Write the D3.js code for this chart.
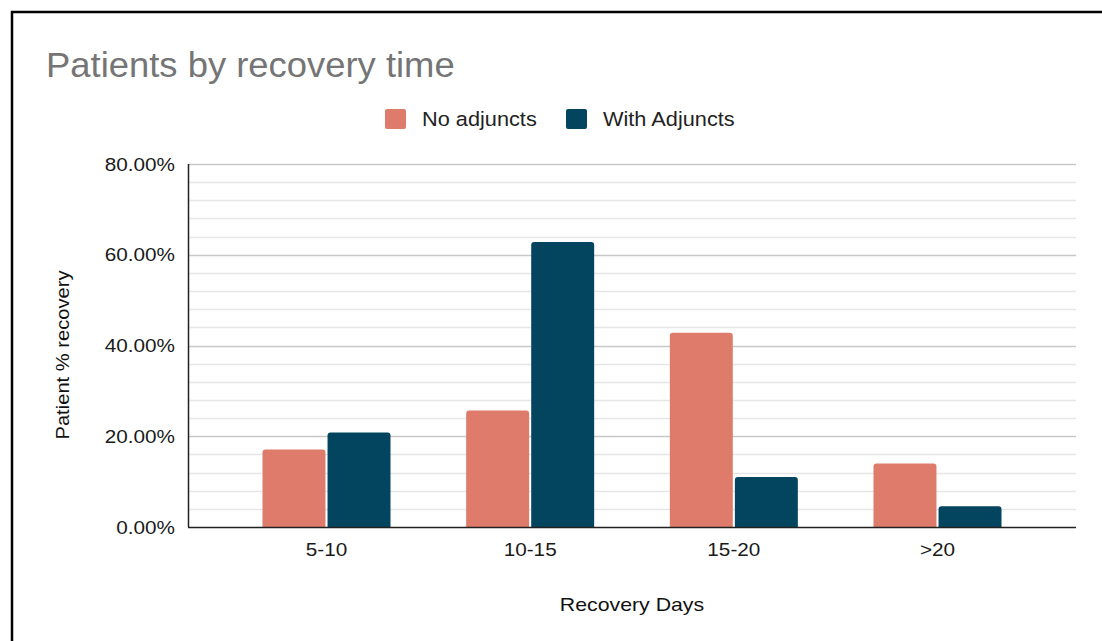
<!DOCTYPE html>
<html>
<head>
<meta charset="utf-8">
<script src="https://cdn.jsdelivr.net/npm/d3@7"></script>
<style>
  html, body { margin: 0; padding: 0; background: #fff; }
  svg { display: block; font-family: "Liberation Sans", Arial, sans-serif; }
</style>
</head>
<body>
<svg id="chart" width="1102" height="641"></svg>
<script>
// Recovery-time buckets and share of patients in each
const categories = ["5-10", "10-15", "15-20", ">20"];
const seriesNames = ["No adjuncts", "With Adjuncts"];
const noAdjuncts = [17.1, 25.7, 42.8, 14.0];
const withAdjuncts = [20.8, 62.8, 11.0, 4.6];
const yTicks = [0, 20, 40, 60, 80];
const colors = ["#de7b6a", "#03445f"];

const svg = d3.select("#chart");

// widen glyphs slightly for a broader sans look
function widen(sel, k) {
  sel.each(function () {
    const w = this.getComputedTextLength();
    d3.select(this).attr("textLength", w * k).attr("lengthAdjust", "spacingAndGlyphs");
  });
}

// outer frame
svg.append("rect")
  .attr("x", 12).attr("y", 12)
  .attr("width", 1200).attr("height", 700)
  .attr("fill", "#fff").attr("stroke", "#000").attr("stroke-width", 2.5);

const plot = { left: 188, right: 1076, top: 164, bottom: 527 };

const y = d3.scaleLinear().domain([0, 80]).range([plot.bottom, plot.top]);
const x0 = d3.scaleBand().domain(categories)
  .range([plot.left, plot.right]).paddingOuter(0.18).paddingInner(0);
const groupWidth = 128;
const x1 = d3.scaleBand().domain(seriesNames)
  .range([0, groupWidth]).paddingInner(0.032);

// minor gridlines every 4%
const minor = d3.range(0, 81, 4).filter(v => v % 20 !== 0);
svg.append("g").selectAll("line").data(minor).join("line")
  .attr("x1", plot.left).attr("x2", plot.right)
  .attr("y1", d => Math.round(y(d)) + 0.5).attr("y2", d => Math.round(y(d)) + 0.5)
  .attr("stroke", "#e6e6e6").attr("stroke-width", 1.3);

// major gridlines
svg.append("g").selectAll("line").data(yTicks.filter(v => v > 0)).join("line")
  .attr("x1", plot.left).attr("x2", plot.right)
  .attr("y1", d => Math.round(y(d)) + 0.5).attr("y2", d => Math.round(y(d)) + 0.5)
  .attr("stroke", "#c8c8c8").attr("stroke-width", 1.3);

// bars with slightly rounded top corners
function barPath(x, yTop, w, yBase, r) {
  r = Math.min(r, (yBase - yTop) / 2);
  return `M${x},${yBase}V${yTop + r}Q${x},${yTop} ${x + r},${yTop}` +
         `H${x + w - r}Q${x + w},${yTop} ${x + w},${yTop + r}V${yBase}Z`;
}

const rows = categories.map((c, i) => ({ cat: c, vals: [noAdjuncts[i], withAdjuncts[i]] }));
const groups = svg.append("g").selectAll("g").data(rows).join("g")
  .attr("transform", d => `translate(${x0(d.cat) + x0.bandwidth() / 2 - groupWidth / 2},0)`);
groups.selectAll("path").data(d => d.vals.map((v, j) => ({ v, s: seriesNames[j], j })))
  .join("path")
  .attr("d", d => barPath(x1(d.s), y(d.v), x1.bandwidth(), y(0), 3))
  .attr("fill", d => colors[d.j]);

// axes
const yAxis = svg.append("g")
  .attr("transform", `translate(${plot.left},0)`)
  .call(d3.axisLeft(y).tickValues(yTicks).tickSize(0).tickPadding(13)
    .tickFormat(d => d.toFixed(2) + "%"));
yAxis.select(".domain").remove();
yAxis.selectAll("text").attr("font-size", 19).attr("fill", "#1a1a1a")
  .attr("font-family", "Liberation Sans, Arial, sans-serif");
widen(yAxis.selectAll("text"), 1.09);

const xAxis = svg.append("g")
  .attr("transform", `translate(0,${plot.bottom})`)
  .call(d3.axisBottom(x0).tickSize(0).tickPadding(16));
xAxis.select(".domain").remove();
xAxis.selectAll("text").attr("font-size", 19).attr("fill", "#1a1a1a")
  .attr("font-family", "Liberation Sans, Arial, sans-serif");
widen(xAxis.selectAll("text"), 1.09);

svg.append("line")
  .attr("x1", plot.left + 0.5).attr("x2", plot.left + 0.5)
  .attr("y1", plot.top).attr("y2", plot.bottom)
  .attr("stroke", "#222").attr("stroke-width", 1.5);
svg.append("line")
  .attr("x1", plot.left).attr("x2", plot.right)
  .attr("y1", plot.bottom + 0.5).attr("y2", plot.bottom + 0.5)
  .attr("stroke", "#222").attr("stroke-width", 1.5);

// title
const title = svg.append("text")
  .attr("x", 46).attr("y", 77)
  .attr("font-size", 35).attr("fill", "#757575")
  .text("Patients by recovery time");
widen(title, 1.04);

// legend
const legendItems = [{ name: seriesNames[0], x: 385 }, { name: seriesNames[1], x: 566 }];
const lg = svg.append("g").selectAll("g").data(legendItems).join("g")
  .attr("transform", d => `translate(${d.x},109)`);
lg.append("rect").attr("width", 21).attr("height", 20).attr("rx", 2)
  .attr("fill", (d, i) => colors[i]);
const lgText = lg.append("text").attr("x", 37).attr("y", 17)
  .attr("font-size", 20.5).attr("fill", "#222").text(d => d.name);
widen(lgText, 1.06);

// axis titles
const xTitle = svg.append("text")
  .attr("x", 632).attr("y", 611)
  .attr("text-anchor", "middle").attr("font-size", 19).attr("fill", "#111")
  .text("Recovery Days");
widen(xTitle, 1.12);

const yTitle = svg.append("text")
  .attr("transform", `translate(69,355) rotate(-90)`)
  .attr("text-anchor", "middle").attr("font-size", 19).attr("fill", "#111")
  .text("Patient % recovery");
widen(yTitle, 1.06);
</script>
</body>
</html>
